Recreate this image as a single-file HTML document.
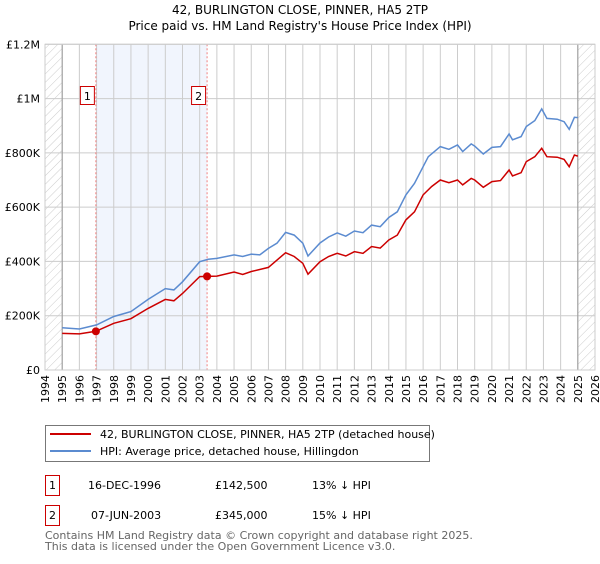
<!DOCTYPE html>
<html><head><meta charset="utf-8"><style>
body{margin:0;background:#fff;font-family:"DejaVu Sans","Liberation Sans",sans-serif;}
svg text{font-family:"DejaVu Sans","Liberation Sans",sans-serif;}
</style></head><body>
<svg id="chart" width="600" height="560" xmlns="http://www.w3.org/2000/svg">
<defs><pattern id="hatch" width="6" height="6" patternUnits="userSpaceOnUse" patternTransform="rotate(45)"><line x1="0" y1="0" x2="0" y2="6" stroke="#ccc" stroke-width="1"/></pattern></defs>
<text x="300" y="14" text-anchor="middle" font-size="12">42, BURLINGTON CLOSE, PINNER, HA5 2TP</text>
<text x="300" y="30" text-anchor="middle" font-size="12">Price paid vs. HM Land Registry's House Price Index (HPI)</text>
<g id="plot"></g>
<g>
<rect x="45.5" y="425.5" width="384" height="36" fill="#fff" stroke="#777"/>
<line x1="50" y1="434" x2="91" y2="434" stroke="#cc0000" stroke-width="2"/>
<text x="100" y="438" font-size="11">42, BURLINGTON CLOSE, PINNER, HA5 2TP (detached house)</text>
<line x1="50" y1="451" x2="91" y2="451" stroke="#5b8bd0" stroke-width="2"/>
<text x="100" y="455" font-size="11">HPI: Average price, detached house, Hillingdon</text>
</g>
<g font-size="11">
<rect x="45.5" y="475.5" width="14" height="20" fill="#fff" stroke="#cc0000"/><text x="52.5" y="489" text-anchor="middle">1</text>
<text x="88" y="489">16-DEC-1996</text><text x="215" y="489">£142,500</text><text x="312" y="489">13% ↓ HPI</text>
<rect x="45.5" y="505.5" width="14" height="20" fill="#fff" stroke="#cc0000"/><text x="52.5" y="519" text-anchor="middle">2</text>
<text x="91" y="519">07-JUN-2003</text><text x="215" y="519">£345,000</text><text x="312" y="519">15% ↓ HPI</text>
</g>
<text x="45" y="539" font-size="11" fill="#666">Contains HM Land Registry data © Crown copyright and database right 2025.</text>
<text x="45" y="550" font-size="11" fill="#666">This data is licensed under the Open Government Licence v3.0.</text>
</svg>
<script>
const yearTicks=[1994,1995,1996,1997,1998,1999,2000,2001,2002,2003,2004,2005,2006,2007,2008,2009,2010,2011,2012,2013,2014,2015,2016,2017,2018,2019,2020,2021,2022,2023,2024,2025,2026];
const valueTicks=[0,200000,400000,600000,800000,1000000,1200000];
const valueLabels=["£0","£200K","£400K","£600K","£800K","£1M","£1.2M"];
const hpiYears=[1995,1996,1997,1998,1999,2000,2001,2001.5,2002,2003,2003.5,2004,2005,2005.5,2006,2006.5,2007,2007.5,2008,2008.5,2009,2009.3,2010,2010.5,2011,2011.5,2012,2012.5,2013,2013.5,2014,2014.5,2015,2015.5,2016,2016.3,2017,2017.5,2018,2018.3,2018.8,2019,2019.5,2020,2020.5,2021,2021.2,2021.7,2022,2022.5,2022.9,2023.2,2023.8,2024.2,2024.5,2024.8,2025];
const hpiValues=[156000,151000,166000,197000,215000,260000,300000,295000,325000,399000,408000,411000,424000,418000,427000,424000,448000,467000,507000,497000,467000,420000,468000,490000,505000,493000,512000,506000,534000,528000,562000,583000,645000,688000,749000,786000,823000,813000,829000,805000,833000,825000,796000,820000,823000,870000,848000,860000,897000,919000,962000,927000,924000,915000,887000,931000,930000];
const priceYears=[1995,1996,1996.96,1998,1999,2000,2001,2001.5,2002,2003,2003.43,2004,2005,2005.5,2006,2007,2008,2008.5,2009,2009.3,2010,2010.5,2011,2011.5,2012,2012.5,2013,2013.5,2014,2014.5,2015,2015.5,2016,2016.5,2017,2017.5,2018,2018.3,2018.8,2019,2019.5,2020,2020.5,2021,2021.2,2021.7,2022,2022.5,2022.9,2023.2,2023.8,2024.2,2024.5,2024.8,2025];
const priceValues=[135000,133000,142500,172000,189000,227000,260000,255000,282000,344000,345000,346000,361000,352000,363000,378000,432000,418000,393000,353000,399000,418000,430000,420000,436000,430000,455000,449000,479000,497000,553000,583000,645000,676000,700000,690000,700000,682000,706000,700000,673000,694000,698000,737000,715000,727000,768000,786000,817000,786000,784000,776000,749000,792000,788000];
const saleYears=[1996.96,2003.43];
const saleValues=[142500,345000];
const saleLabels=["1","2"];
const X0=45,X1=595,Y0=370,Y1=44.3;
const xs=y=>X0+(y-1994)/32*(X1-X0);
const ys=v=>Y0-v/1200000*(Y0-Y1);
const NS="http://www.w3.org/2000/svg";
const g=document.getElementById('plot');
function mk(t,a,p){const e=document.createElementNS(NS,t);for(const k in a)e.setAttribute(k,a[k]);(p||g).appendChild(e);return e;}
// hatched regions
let h1=mk('rect',{x:X0,y:Y1,width:xs(1995)-X0,height:Y0-Y1,fill:'url(#hatch)'});


let h2=mk('rect',{x:xs(2025),y:Y1,width:X1-xs(2025),height:Y0-Y1,fill:'url(#hatch)'});


let sh=mk('rect',{x:xs(saleYears[0]),y:Y1,width:xs(saleYears[1])-xs(saleYears[0]),height:Y0-Y1,fill:'#eef3fc',opacity:0.8});


// grid
yearTicks.forEach(yr=>{const x=xs(yr);
 let l=mk('line',{x1:x,x2:x,y1:Y1,y2:Y0,stroke:'#ccc'});
 
 
 let t=mk('text',{x:0,y:0,transform:`translate(${x+4},${Y0+33}) rotate(-90)`,'font-size':11});
 t.textContent=yr;
 
 
});
valueTicks.forEach((v,i)=>{const y=ys(v);
 let l=mk('line',{x1:X0,x2:X1,y1:y,y2:y,stroke:'#ccc'});
 
 
 let t=mk('text',{x:40,y:y+4,'text-anchor':'end','font-size':11});
 t.textContent=valueLabels[i];
 
 
});
let a1=mk('line',{x1:xs(1995),x2:xs(1995),y1:Y1,y2:Y0,stroke:'#999'});


let a2=mk('line',{x1:xs(2025),x2:xs(2025),y1:Y1,y2:Y0,stroke:'#999'});


// sale markers
saleYears.forEach((yr,i)=>{const x=xs(yr);
 let l=mk('line',{x1:x,x2:x,y1:Y1,y2:Y0,stroke:'#f08080','stroke-dasharray':'2,2'});
 
 
 let b=mk('rect',{x:x-15.5,y:86.5,width:14,height:18,fill:'#fff',stroke:'#cc0000'});
 
 
 let t=mk('text',{x:x-8.5,y:100,'text-anchor':'middle','font-size':11});
 t.textContent=saleLabels[i];
 
 
});
const path=(xa,va)=>xa.map((x,i)=>(i?'L':'M')+xs(x).toFixed(1)+','+ys(va[i]).toFixed(1)).join('');
let hp=mk('path',{d:path(hpiYears,hpiValues),fill:'none',stroke:'#5b8bd0','stroke-width':1.5});


let pp=mk('path',{d:path(priceYears,priceValues),fill:'none',stroke:'#cc0000','stroke-width':1.5});


saleYears.forEach((yr,i)=>{
 let d=mk('circle',{cx:xs(yr),cy:ys(saleValues[i]),r:4,fill:'#cc0000'});
 
 
});
let fr=mk('rect',{x:X0,y:Y1,width:X1-X0,height:Y0-Y1,fill:'none',stroke:'#ccc'});


</script>
</body></html>
